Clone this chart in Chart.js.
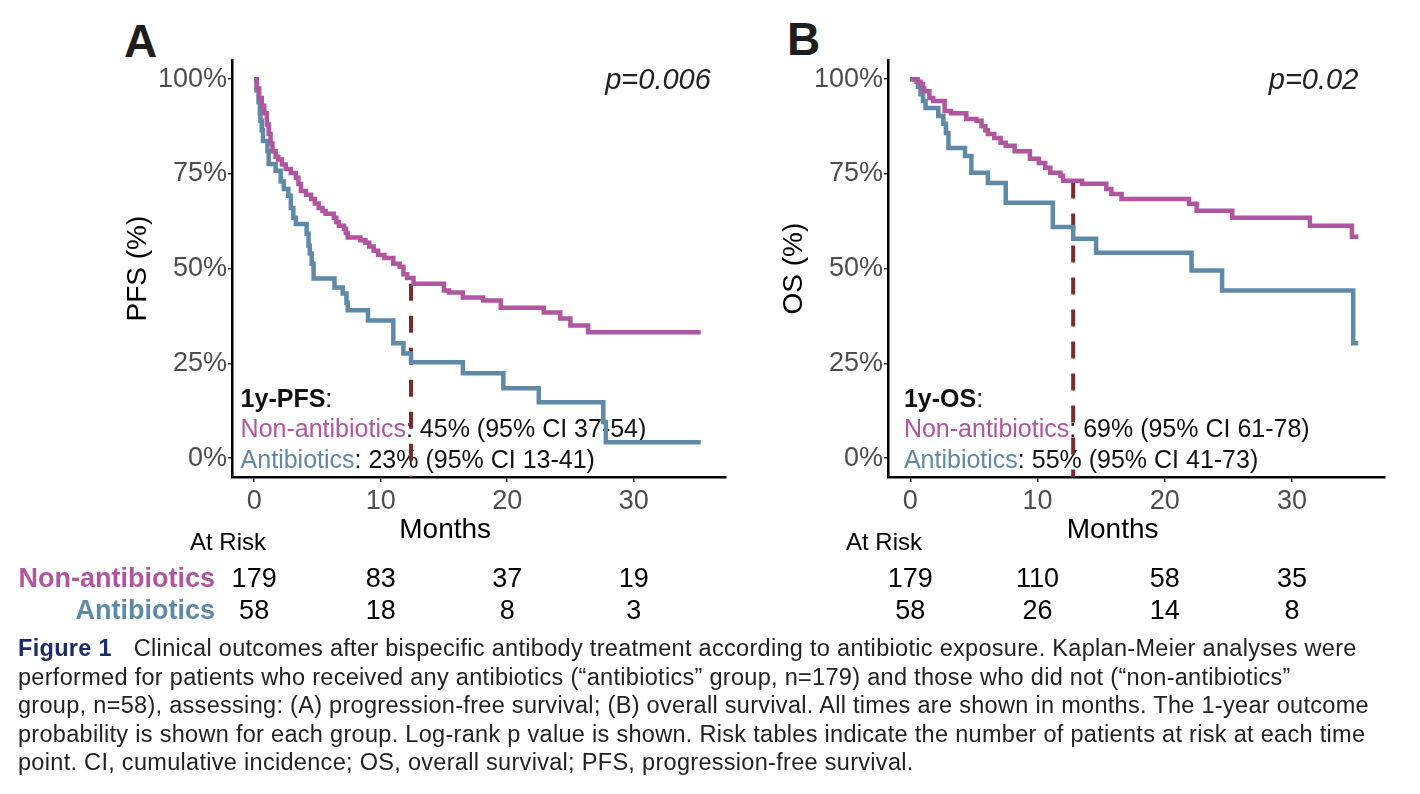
<!DOCTYPE html>
<html>
<head>
<meta charset="utf-8">
<script src="https://cdn.jsdelivr.net/npm/chart.js@4.4.1/dist/chart.umd.min.js"></script>
<style>
    body { margin: 0; background: #fff; width: 1420px; height: 794px; overflow: hidden; position: relative;
           font-family: 'Liberation Sans', Arial, Helvetica, sans-serif; }
    canvas { position: absolute; }
    #cht-pfs { left: 0px; top: 43px; }
    #cht-os { left: 756px; top: 43px; }
    .letter { position: absolute; font-weight: bold; font-size: 46px; line-height: 46px; color: #1e1e1e; }
    #caption { position: absolute; left: 18px; top: 634px; font-size: 23.5px; letter-spacing: 0.3px; line-height: 28.5px; color: #222; white-space: nowrap; }
    #caption b { color: #1f2a6b; margin-right: 22px; }
</style>
</head>
<body>
<div class="letter" style="left:124px;top:18px">A</div>
<div class="letter" style="left:787px;top:16px">B</div>
<canvas id="cht-pfs" width="742" height="592"></canvas>
<canvas id="cht-os" width="645" height="592"></canvas>
<div id="caption">
<b>Figure 1</b>Clinical outcomes after bispecific antibody treatment according to antibiotic exposure. Kaplan-Meier analyses were<br>
performed for patients who received any antibiotics (“antibiotics” group, n=179) and those who did not (“non-antibiotics”<br>
group, n=58), assessing: (A) progression-free survival; (B) overall survival. All times are shown in months. The 1-year outcome<br>
probability is shown for each group. Log-rank p value is shown. Risk tables indicate the number of patients at risk at each time<br>
point. CI, cumulative incidence; OS, overall survival; PFS, progression-free survival.
</div>
<script>
    var font = "'Liberation Sans', Arial, Helvetica, sans-serif";
    var pink = '#b0559f';
    var blue = '#5e89a7';

    // PFS, months / survival (%) after each drop
    var pfsNonTime = [0, 0.2, 0.4, 0.6, 0.8, 1.0, 1.15, 1.3, 1.45, 1.7, 1.9, 2.2, 2.5, 2.9, 3.3, 3.5, 3.7, 4.1, 4.5, 4.8, 5.1, 5.4, 5.65, 6.3, 6.5, 6.7, 7.1, 7.25, 7.4, 8.4, 8.8, 9.1, 9.45, 9.8, 10.3, 11.0, 11.5, 11.8, 12.1, 12.6, 15.0, 15.4, 16.5, 18.1, 19.5, 22.9, 24.2, 25.0, 26.4, 35.3];
    var pfsNonSurv = [100, 97.5, 95, 93, 91, 88, 85.5, 83, 81, 79.5, 78.8, 77.5, 76.3, 75.2, 74, 72.3, 70.5, 69.5, 68.4, 67.2, 66, 65.2, 64.5, 63.4, 62.3, 61.3, 60.5, 59.4, 58.2, 57.5, 56.8, 55.8, 54.7, 53.6, 52.8, 51.3, 50.5, 48.5, 47.5, 46, 44.2, 43.7, 42.4, 41.6, 39.7, 38.4, 36.8, 35, 33.2, 33.2];
    var pfsAbxTime = [0, 0.2, 0.35, 0.45, 0.5, 0.6, 0.7, 1.05, 1.15, 1.7, 2.1, 2.35, 2.7, 2.9, 3.1, 3.3, 4.15, 4.3, 4.4, 4.55, 4.7, 6.35, 7.0, 7.3, 7.4, 9.0, 11.0, 11.8, 12.4, 16.5, 19.7, 22.5, 27.6, 27.8, 35.3];
    var pfsAbxSurv = [100, 97, 94, 91, 89, 86.5, 83.7, 81, 77.6, 75.8, 73, 71, 69.2, 66, 63.4, 61.8, 59.2, 56, 54, 51.3, 47.4, 45, 43.4, 41, 39, 36.3, 30.3, 27.6, 25.3, 22.4, 18.4, 14.7, 9.5, 4.2, 4.2];

    // OS
    var osNonTime = [0, 0.5, 0.8, 1.0, 1.1, 1.5, 1.8, 2.7, 3.2, 4.4, 5.2, 5.6, 5.9, 6.1, 6.6, 7.1, 7.5, 8.2, 9.4, 10.1, 10.6, 11.0, 11.8, 12.0, 13.5, 15.4, 15.8, 16.6, 21.9, 22.5, 25.3, 31.4, 34.7, 35.2];
    var osNonSurv = [100, 99.3, 98.7, 97.5, 96.8, 95, 94.2, 91.6, 91, 89.5, 89, 87.6, 86.5, 85.5, 84.5, 83.2, 82.4, 81, 79, 77.9, 76.6, 75.3, 74.5, 73.2, 72.4, 71, 69.7, 68.4, 67.1, 65.3, 63.4, 61.3, 58.4, 58.4];
    var osAbxTime = [0, 0.6, 0.8, 1.0, 1.2, 2.2, 2.6, 2.8, 3.0, 4.3, 4.8, 6.1, 7.5, 11.2, 12.8, 14.6, 22.1, 24.5, 34.8, 35.2];
    var osAbxSurv = [100, 98, 96, 94.2, 92.4, 90.3, 88.2, 85.8, 81.8, 79.7, 75.3, 72.6, 67.4, 61, 57.9, 54.2, 49.5, 44.2, 30.3, 30.3];

    // 1-year landmark [month, top %]
    var pfsLandmark = [12.4, 46];
    var osLandmark = [12.8, 73];

    // at risk table
    var riskTimes = [0, 10, 20, 30];
    var pfsRiskNon = [179, 83, 37, 19];
    var pfsRiskAbx = [58, 18, 8, 3];
    var osRiskNon = [179, 110, 58, 35];
    var osRiskAbx = [58, 26, 14, 8];
    var groupNames = ['Non-antibiotics', 'Antibiotics'];

    var xTicks = [0, 10, 20, 30];
    var yTicks = [0, 25, 50, 75, 100];

    function toPoints(times, surv) {
        return times.map(function (t, i) { return { x: t, y: surv[i] }; });
    }

    function runs(ctx, x, y, parts) {
        parts.forEach(function (p) {
            ctx.font = (p[2] || '') + ' 25px ' + font;
            ctx.fillStyle = p[1];
            ctx.fillText(p[0], x, y);
            x += ctx.measureText(p[0]).width;
        });
    }

    var kmText = {
        id: 'kmText',
        beforeDatasetsDraw: function (chart, args, o) {
            var ctx = chart.ctx, x = chart.scales.x, y = chart.scales.y;
            var left = x.getPixelForValue(o.noteX);
            ctx.save();
            ctx.textAlign = 'left';
            ctx.textBaseline = 'middle';
            runs(ctx, left, y.getPixelForValue(15.3), [[o.noteTitle, '#111', 'bold'], [':', '#111']]);
            runs(ctx, left, y.getPixelForValue(7.4), [[groupNames[0], pink], [o.noteNon, '#111']]);
            runs(ctx, left, y.getPixelForValue(-0.8), [[groupNames[1], blue], [o.noteAbx, '#111']]);
            ctx.font = 'italic 29px ' + font;
            ctx.textAlign = 'right';
            ctx.fillStyle = '#222';
            ctx.fillText(o.pText, x.getPixelForValue(o.pX), y.getPixelForValue(99.5));
            ctx.restore();
        },
        afterDraw: function (chart, args, o) {
            var ctx = chart.ctx, x = chart.scales.x, area = chart.chartArea;
            ctx.save();
            ctx.textBaseline = 'middle';
            ctx.textAlign = 'center';
            ctx.fillStyle = '#000';
            ctx.font = '28px ' + font;
            ctx.fillText('Months', x.getPixelForValue(o.monthsAt), area.bottom + 53);
            ctx.font = '24px ' + font;
            ctx.fillText('At Risk', area.left - 4, area.bottom + 66);
            ctx.font = '27px ' + font;
            riskTimes.forEach(function (t, i) {
                ctx.fillText(o.riskNon[i], x.getPixelForValue(t), area.bottom + 103);
                ctx.fillText(o.riskAbx[i], x.getPixelForValue(t), area.bottom + 135);
            });
            if (o.names) {
                ctx.textAlign = 'right';
                ctx.font = 'bold 27px ' + font;
                ctx.fillStyle = pink;
                ctx.fillText(groupNames[0], area.left - 17, area.bottom + 103);
                ctx.fillStyle = blue;
                ctx.fillText(groupNames[1], area.left - 17, area.bottom + 135);
            }
            ctx.restore();
        }
    };

    function makePanel(id, p) {
        var tickFont = { family: font, size: 27 };
        return new Chart(document.getElementById(id), {
            type: 'line',
            data: {
                datasets: [
                    { data: toPoints(p.nonTime, p.nonSurv), borderColor: pink, borderWidth: 4.5, stepped: true, fill: false },
                    { data: toPoints(p.abxTime, p.abxSurv), borderColor: blue, borderWidth: 4.5, stepped: true, fill: false },
                    { data: [{ x: p.landmark[0], y: p.landmark[1] }, { x: p.landmark[0], y: -5 }],
                      borderColor: '#7b2a2e', borderWidth: 4, borderDash: [17, 15], fill: false }
                ]
            },
            options: {
                responsive: false,
                animation: false,
                layout: { padding: { left: 0, top: 16, right: 16, bottom: 98 } },
                elements: { point: { radius: 0 }, line: { borderCapStyle: 'butt' } },
                plugins: { legend: { display: false }, tooltip: { enabled: false }, kmText: p.text },
                scales: {
                    x: {
                        type: 'linear', min: -1.75, max: 37.3,
                        afterBuildTicks: function (s) { s.ticks = xTicks.map(function (v) { return { value: v }; }); },
                        afterFit: function (s) { s.height = 60; },
                        ticks: { font: tickFont, color: '#4d4d4d', padding: 3, maxRotation: 0, autoSkip: false },
                        grid: { display: true, drawOnChartArea: false, drawTicks: true, tickLength: 5, color: '#333', lineWidth: 1.5 },
                        border: { display: true, color: '#000', width: 2.5 }
                    },
                    y: {
                        min: -5, max: 105,
                        afterBuildTicks: function (s) { s.ticks = yTicks.map(function (v) { return { value: v }; }); },
                        afterFit: function (s) { s.width = p.axisWidth; },
                        ticks: { font: tickFont, color: '#4d4d4d', padding: 1, callback: function (v) { return v + '%'; } },
                        grid: { display: true, drawOnChartArea: false, drawTicks: true, tickLength: 4, color: '#333', lineWidth: 1.5 },
                        border: { display: true, color: '#000', width: 2.5 },
                        title: { display: true, text: p.yTitle, color: '#000', font: { family: font, size: 28 }, padding: { top: p.titlePad } }
                    }
                }
            },
            plugins: [kmText]
        });
    }

    makePanel('cht-pfs', {
        nonTime: pfsNonTime, nonSurv: pfsNonSurv, abxTime: pfsAbxTime, abxSurv: pfsAbxSurv,
        landmark: pfsLandmark, yTitle: 'PFS (%)', axisWidth: 232, titlePad: 121,
        text: { noteX: -1.07, noteTitle: '1y-PFS', noteNon: ': 45% (95% CI 37-54)', noteAbx: ': 23% (95% CI 13-41)',
                pText: 'p=0.006', pX: 36.1, monthsAt: 15.1, riskNon: pfsRiskNon, riskAbx: pfsRiskAbx, names: true }
    });

    makePanel('cht-os', {
        nonTime: osNonTime, nonSurv: osNonSurv, abxTime: osAbxTime, abxSurv: osAbxSurv,
        landmark: osLandmark, yTitle: 'OS (%)', axisWidth: 132, titlePad: 21,
        text: { noteX: -0.5, noteTitle: '1y-OS', noteNon: ': 69% (95% CI 61-78)', noteAbx: ': 55% (95% CI 41-73)',
                pText: 'p=0.02', pX: 35.2, monthsAt: 15.9, riskNon: osRiskNon, riskAbx: osRiskAbx, names: false }
    });
</script>
</body>
</html>
